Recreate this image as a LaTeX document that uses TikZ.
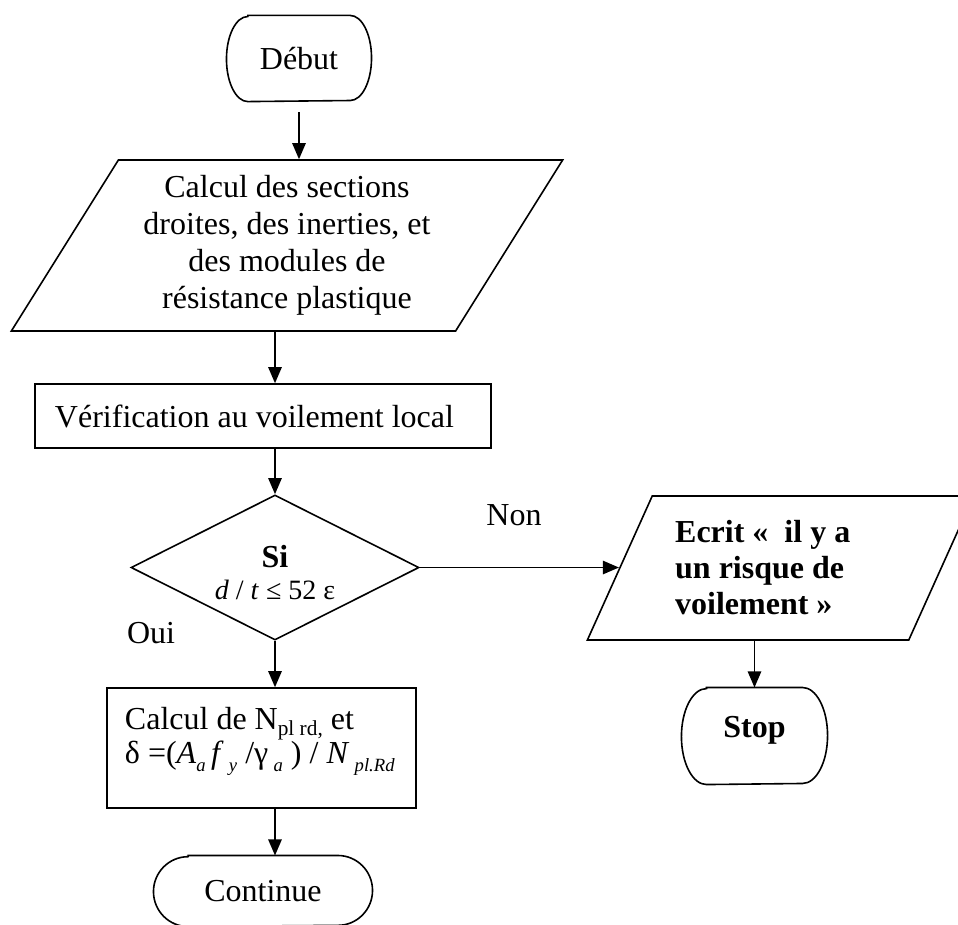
\documentclass[tikz,border=0pt]{standalone}
\usepackage{fontspec}
\setmainfont{Liberation Serif}
\usetikzlibrary{shapes.geometric,arrows.meta}

\newcommand{\idx}[1]{\raisebox{-0.4ex}{\footnotesize #1}}
\newcommand{\idxs}[1]{\raisebox{-0.5ex}{\scriptsize #1}}
% contour des noeuds debut / fin
\newcommand{\termline}[3]{%
  \draw[line width=0.6pt] ([xshift=#2]#1.north west) -- ([xshift=-#2]#1.north east)
    arc[start angle=90,end angle=-90,x radius=#2,y radius=#3]
    -- ([xshift=#2]#1.south west)
    arc[start angle=270,end angle=90,x radius=#2,y radius=#3] -- cycle;}

\begin{document}
\begin{tikzpicture}[x=0.375pt,y=-0.375pt,
  every node/.style={font=\fontsize{12}{13.9}\selectfont},
  arr/.style={line width=0.6pt,-{Triangle[length=6pt,width=5pt]}},
  term/.style={rectangle,inner sep=0pt},
  io/.style={draw,line width=0.6pt,trapezium,trapezium stretches=true,inner sep=0pt},
  proc/.style={draw,line width=0.6pt,rectangle,inner ysep=0pt},
  test/.style={draw,line width=0.6pt,diamond,aspect=2,inner sep=0pt}]
  \useasboundingbox (0,0) rectangle (958,924);
  % colonne principale
  \node[term,minimum width=54pt,minimum height=31.9pt] (debut) at (299,58.5) {Début};
  \node[io,trapezium left angle=57,trapezium right angle=123,
    minimum width=207pt,minimum height=64.1pt,align=center] (sections) at (287,245.5)
    {Calcul des sections\\droites, des inerties, et\\des modules de\\résistance plastique};
  \node[proc,minimum width=171pt,minimum height=24pt,text width=156pt,
    inner xsep=7.5pt,align=flush left] (verif) at (263,416) {Vérification au voilement local};
  \node[test,minimum width=108pt,minimum height=54.4pt] (si) at (275,567.5)
    {\raisebox{-3.2pt}[\height][\depth]{\begin{tabular}{@{}c@{}}\textbf{Si}\\[-1.9pt]
      \fontsize{10.5}{12}\selectfont\textit{d} / \textit{t} ≤ 52 ε\end{tabular}}};
  \node[proc,minimum width=115.9pt,minimum height=45pt,text width=102.4pt,
    inner xsep=6.75pt,align=flush left] (calc) at (261.5,748)
    {\raisebox{3.2pt}[\height][\depth]{\begin{tabular}{@{}l@{}}Calcul de N\idx{pl rd,} et\\[-1pt]
      δ =(\textit{A}\idxs{\textit{a}}\,\textit{f}\,\idxs{\textit{y}} /γ\,\idxs{\textit{a}} ) / \textit{N}\,\idxs{\textit{pl.Rd}}\end{tabular}}};
  \node[term,minimum width=81.75pt,minimum height=26.25pt] (cont) at (263,891)
    {Continue\hspace{16pt}};
  % branche Non
  \node[io,trapezium left angle=60.6,trapezium right angle=119.4,
    minimum width=145.1pt,minimum height=54pt,text width=79pt,align=flush left,
    font=\fontsize{12}{13.5}\selectfont\bfseries] (ecrit) at (780.5,568)
    {Ecrit «~ il y a\\un risque de\\voilement »};
  \node[term,minimum width=54.4pt,minimum height=36pt,font=\fontsize{12}{13.9}\selectfont\bfseries] (stop) at (754.5,736)
    {\raisebox{2.25pt}[\height][\depth]{Stop}\hspace{12pt}};
  \node (non) at (514,515) {Non};
  \node (oui) at (151,633) {Oui};
  \termline{debut}{8pt}{15.95pt}
  \termline{stop}{9.4pt}{18pt}
  \termline{cont}{13pt}{13.1pt}
  % fleches
  \draw[arr,shorten <=4pt] (debut.south) -- (debut.south |- sections.north);
  \draw[arr] (si.north |- sections.south) -- (si.north |- verif.north);
  \draw[arr] (si.north |- verif.south) -- (si.north);
  \draw[arr] (si.east) -- (si.east -| ecrit.west);
  \draw[arr] (si.south) -- (si.south |- calc.north);
  \draw[arr] (si.south |- calc.south) -- (si.south |- cont.north);
  \draw[arr] (stop.north |- ecrit.south) -- (stop.north);
\end{tikzpicture}
\end{document}
